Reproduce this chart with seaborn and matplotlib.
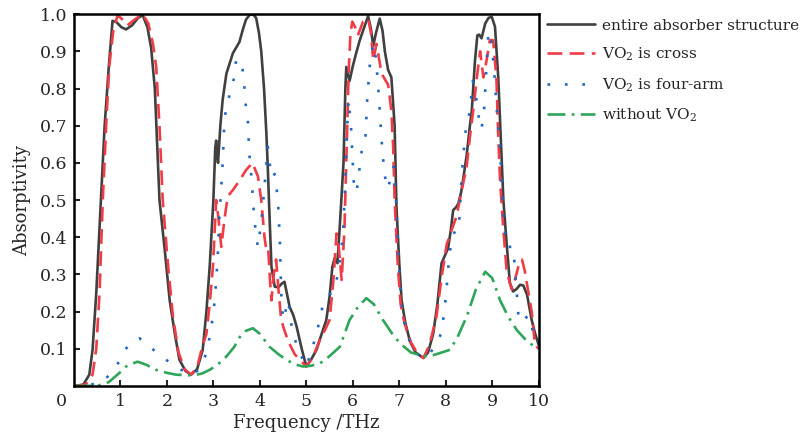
import numpy as np
import pandas as pd
import matplotlib
matplotlib.use("Agg")
import matplotlib.pyplot as plt
import seaborn as sns

# values (frequency in THz, absorptivity)
entire_x = [0.0, 0.20, 0.33, 0.40, 0.48, 0.58, 0.66, 0.75, 0.83, 0.92, 1.02, 1.12, 1.25, 1.38, 1.48, 1.58,
            1.66, 1.74, 1.84, 1.95, 2.06, 2.17, 2.27, 2.40, 2.52, 2.65, 2.77, 2.85, 2.92, 3.00, 3.04, 3.06,
            3.08, 3.10, 3.15, 3.20, 3.28, 3.42, 3.56, 3.63, 3.70, 3.78, 3.85, 3.92, 3.98, 4.03, 4.09, 4.14,
            4.17, 4.21, 4.25, 4.32, 4.40, 4.47, 4.53, 4.58, 4.64, 4.72, 4.79, 4.90, 5.00, 5.10, 5.22, 5.33,
            5.43, 5.50, 5.56, 5.61, 5.67, 5.73, 5.80, 5.84, 5.86, 5.93, 6.00, 6.07, 6.15, 6.22, 6.33, 6.39,
            6.44, 6.50, 6.58, 6.64, 6.69, 6.76, 6.83, 6.90, 6.94, 7.00, 7.05, 7.13, 7.23, 7.35, 7.52, 7.62,
            7.73, 7.82, 7.91, 7.98, 8.05, 8.11, 8.16, 8.22, 8.27, 8.33, 8.38, 8.45, 8.52, 8.56, 8.63, 8.68,
            8.72, 8.77, 8.85, 8.92, 8.99, 9.06, 9.13, 9.20, 9.24, 9.31, 9.38, 9.45, 9.52, 9.60, 9.67, 9.75,
            9.85, 9.92, 10.0]
entire_y = [0.0, 0.003, 0.03, 0.097, 0.25, 0.50, 0.70, 0.86, 0.982, 0.978, 0.965, 0.959, 0.970, 0.990, 0.997, 0.965,
            0.91, 0.80, 0.50, 0.37, 0.23, 0.14, 0.07, 0.04, 0.03, 0.045, 0.097, 0.20, 0.32, 0.50, 0.64, 0.66,
            0.62, 0.60, 0.70, 0.77, 0.84, 0.895, 0.925, 0.957, 0.985, 0.998, 1.0, 0.99, 0.95, 0.90, 0.80, 0.68,
            0.59, 0.45, 0.32, 0.267, 0.265, 0.275, 0.28, 0.25, 0.213, 0.19, 0.16, 0.10, 0.052, 0.07, 0.097, 0.14,
            0.177, 0.24, 0.32, 0.344, 0.33, 0.45, 0.60, 0.80, 0.858, 0.82, 0.86, 0.894, 0.93, 0.955, 0.995, 0.96,
            0.915, 0.95, 0.988, 0.955, 0.90, 0.85, 0.83, 0.70, 0.48, 0.33, 0.23, 0.17, 0.12, 0.09, 0.075, 0.09,
            0.14, 0.22, 0.33, 0.35, 0.37, 0.42, 0.473, 0.48, 0.49, 0.52, 0.56, 0.62, 0.70, 0.74, 0.876, 0.943,
            0.945, 0.935, 0.975, 0.99, 0.993, 0.966, 0.83, 0.62, 0.50, 0.384, 0.277, 0.254, 0.26, 0.272, 0.27, 0.245,
            0.177, 0.142, 0.11]

cross_x = [0.0, 0.25, 0.40, 0.48, 0.55, 0.62, 0.70, 0.76, 0.85, 0.94, 1.05, 1.15, 1.30, 1.48, 1.60, 1.70,
           1.77, 1.84, 1.91, 2.02, 2.13, 2.25, 2.38, 2.52, 2.65, 2.75, 2.85, 2.92, 2.99, 3.06, 3.11, 3.17,
           3.24, 3.31, 3.42, 3.55, 3.70, 3.84, 3.96, 4.03, 4.10, 4.14, 4.18, 4.22, 4.25, 4.30, 4.35, 4.40,
           4.45, 4.50, 4.61, 4.75, 4.86, 5.00, 5.15, 5.29, 5.40, 5.50, 5.58, 5.65, 5.70, 5.76, 5.82, 5.87,
           5.91, 5.95, 5.99, 6.05, 6.11, 6.22, 6.33, 6.39, 6.44, 6.51, 6.62, 6.76, 6.83, 6.87, 6.90, 6.97,
           7.03, 7.08, 7.18, 7.26, 7.40, 7.52, 7.65, 7.80, 7.92, 8.02, 8.10, 8.23, 8.35, 8.45, 8.52, 8.59,
           8.67, 8.74, 8.81, 8.87, 8.95, 9.02, 9.09, 9.13, 9.17, 9.24, 9.31, 9.38, 9.42, 9.50, 9.56, 9.64,
           9.70, 9.78, 9.85, 9.92, 10.0]
cross_y = [0.0, 0.003, 0.03, 0.10, 0.25, 0.50, 0.72, 0.86, 0.96, 0.997, 0.985, 0.97, 0.985, 1.0, 0.975, 0.92,
           0.858, 0.70, 0.50, 0.33, 0.186, 0.09, 0.045, 0.03, 0.05, 0.10, 0.14, 0.22, 0.32, 0.50, 0.45, 0.374,
           0.45, 0.51, 0.527, 0.55, 0.58, 0.60, 0.563, 0.50, 0.40, 0.366, 0.37, 0.28, 0.23, 0.30, 0.34, 0.26,
           0.19, 0.16, 0.12, 0.085, 0.07, 0.052, 0.08, 0.124, 0.15, 0.177, 0.28, 0.41, 0.37, 0.285, 0.42, 0.65,
           0.84, 0.95, 0.98, 0.965, 0.943, 0.98, 0.988, 0.95, 0.876, 0.92, 0.84, 0.81, 0.74, 0.64, 0.50, 0.32,
           0.22, 0.186, 0.14, 0.115, 0.085, 0.075, 0.11, 0.186, 0.30, 0.38, 0.41, 0.455, 0.53, 0.59, 0.67, 0.74,
           0.83, 0.90, 0.83, 0.87, 0.93, 0.93, 0.83, 0.67, 0.55, 0.42, 0.31, 0.277, 0.26, 0.29, 0.32, 0.34,
           0.31, 0.25, 0.20, 0.11, 0.10]

fourarm_x = [0.0, 0.30, 0.62, 0.90, 1.12, 1.25, 1.41, 1.60, 1.77, 2.06, 2.31, 2.55, 2.70, 2.85, 2.95, 3.03,
             3.09, 3.13, 3.20, 3.23, 3.27, 3.33, 3.39, 3.46, 3.49, 3.55, 3.63, 3.67, 3.70, 3.74, 3.77, 3.82,
             3.87, 3.92, 3.96, 4.03, 4.10, 4.17, 4.21, 4.25, 4.32, 4.39, 4.43, 4.46, 4.50, 4.55, 4.61, 4.66,
             4.71, 4.86, 5.00, 5.10, 5.22, 5.36, 5.45, 5.54, 5.62, 5.68, 5.74, 5.79, 5.84, 5.88, 5.91, 5.96,
             6.02, 6.08, 6.14, 6.20, 6.27, 6.31, 6.37, 6.44, 6.50, 6.56, 6.62, 6.68, 6.75, 6.82, 6.88, 6.93,
             6.98, 7.03, 7.12, 7.25, 7.40, 7.52, 7.65, 7.78, 7.90, 7.97, 8.03, 8.07, 8.13, 8.22, 8.28, 8.34,
             8.42, 8.52, 8.58, 8.63, 8.70, 8.77, 8.83, 8.86, 8.92, 8.98, 9.04, 9.10, 9.17, 9.24, 9.31, 9.38,
             9.45, 9.50, 9.56, 9.62, 9.70, 9.78, 9.87, 9.95, 10.0]
fourarm_y = [0.0, 0.002, 0.01, 0.05, 0.10, 0.12, 0.128, 0.11, 0.09, 0.063, 0.043, 0.03, 0.045, 0.088, 0.15, 0.23,
             0.34, 0.455, 0.60, 0.69, 0.75, 0.774, 0.80, 0.836, 0.88, 0.875, 0.85, 0.80, 0.75, 0.72, 0.63, 0.56,
             0.47, 0.40, 0.374, 0.44, 0.536, 0.643, 0.60, 0.56, 0.57, 0.50, 0.39, 0.25, 0.177, 0.20, 0.23, 0.18,
             0.14, 0.088, 0.052, 0.09, 0.14, 0.22, 0.24, 0.25, 0.27, 0.30, 0.35, 0.41, 0.55, 0.70, 0.77, 0.70,
             0.55, 0.52, 0.58, 0.64, 0.66, 0.77, 0.87, 0.92, 0.88, 0.78, 0.66, 0.57, 0.53, 0.56, 0.59, 0.50,
             0.36, 0.25, 0.16, 0.11, 0.085, 0.075, 0.085, 0.11, 0.14, 0.20, 0.28, 0.34, 0.40, 0.42, 0.42, 0.56,
             0.68, 0.74, 0.82, 0.80, 0.73, 0.69, 0.75, 0.82, 0.953, 0.93, 0.85, 0.74, 0.634, 0.455, 0.374, 0.374,
             0.374, 0.30, 0.195, 0.17, 0.18, 0.19, 0.15, 0.13, 0.12]

novo2_x = [0.0, 0.50, 0.75, 0.98, 1.15, 1.37, 1.55, 1.77, 2.00, 2.20, 2.55, 2.75, 2.92, 3.10, 3.28, 3.45,
           3.56, 3.70, 3.85, 4.00, 4.21, 4.40, 4.57, 4.75, 4.93, 5.10, 5.29, 5.50, 5.72, 5.93, 6.10, 6.29,
           6.45, 6.65, 6.85, 7.01, 7.25, 7.52, 7.66, 7.87, 8.09, 8.25, 8.45, 8.65, 8.85, 9.00, 9.17, 9.35,
           9.53, 9.75, 9.92, 10.0]
novo2_y = [0.0, 0.0, 0.01, 0.035, 0.055, 0.065, 0.057, 0.043, 0.035, 0.03, 0.028, 0.033, 0.043, 0.058, 0.079, 0.105,
           0.13, 0.148, 0.155, 0.14, 0.105, 0.085, 0.07, 0.058, 0.052, 0.054, 0.06, 0.08, 0.105, 0.177, 0.21, 0.236,
           0.22, 0.177, 0.14, 0.115, 0.09, 0.08, 0.08, 0.088, 0.097, 0.13, 0.186, 0.26, 0.307, 0.29, 0.23, 0.185,
           0.15, 0.12, 0.105, 0.10]

series = [
    ("entire absorber structure", entire_x, entire_y, "#404040", "-"),
    (r"VO$_2$ is cross", cross_x, cross_y, "#f03c46", (0, (5.6, 2.8))),
    (r"VO$_2$ is four-arm", fourarm_x, fourarm_y, "#1f67c2", (0, (1, 5.6))),
    (r"without VO$_2$", novo2_x, novo2_y, "#2ea55a", (0, (6.8, 2.4, 1, 2.4))),
]

sns.set_theme(style="ticks")
plt.rcParams["font.family"] = ["DejaVu Serif"]
plt.rcParams["mathtext.default"] = "regular"

fig = plt.figure(figsize=(8.04, 4.43), dpi=100)
ax = fig.add_axes([0.092, 0.129, 0.578, 0.839])

for label, xs, ys, color, ls in series:
    df = pd.DataFrame({"freq": xs, "abs": ys})
    sns.lineplot(data=df, x="freq", y="abs", ax=ax, color=color, linestyle=ls,
                 linewidth=1.9, label=label, estimator=None, sort=False)

ax.set_xlim(0, 10)
ax.set_ylim(0, 1.0)
ax.set_xticks(np.arange(1, 11))
ax.set_xticklabels([str(i) for i in range(1, 11)])
ax.set_yticks(np.arange(0.1, 1.01, 0.1))
ax.set_yticklabels([f"{v:.1f}" for v in np.arange(0.1, 1.01, 0.1)])
ax.tick_params(direction="in", length=4, width=1.5, labelsize=12.5, pad=5)
ax.annotate("0", xy=(0, 0), xycoords="axes fraction", xytext=(-9, -5),
            textcoords="offset points", ha="center", va="top", fontsize=12.5)
for sp in ax.spines.values():
    sp.set_linewidth(1.8)
    sp.set_color("black")

ax.set_xlabel("Frequency /THz", fontsize=13, labelpad=3)
ax.set_ylabel("Absorptivity", fontsize=13, labelpad=6)

ax.legend(loc="upper left", bbox_to_anchor=(1.007, 1.0), frameon=False, fontsize=11,
          handlelength=3.2, handletextpad=0.4, labelspacing=0.85, borderaxespad=0.0,
          borderpad=0.3)

fig.savefig("out.png", dpi=100)
